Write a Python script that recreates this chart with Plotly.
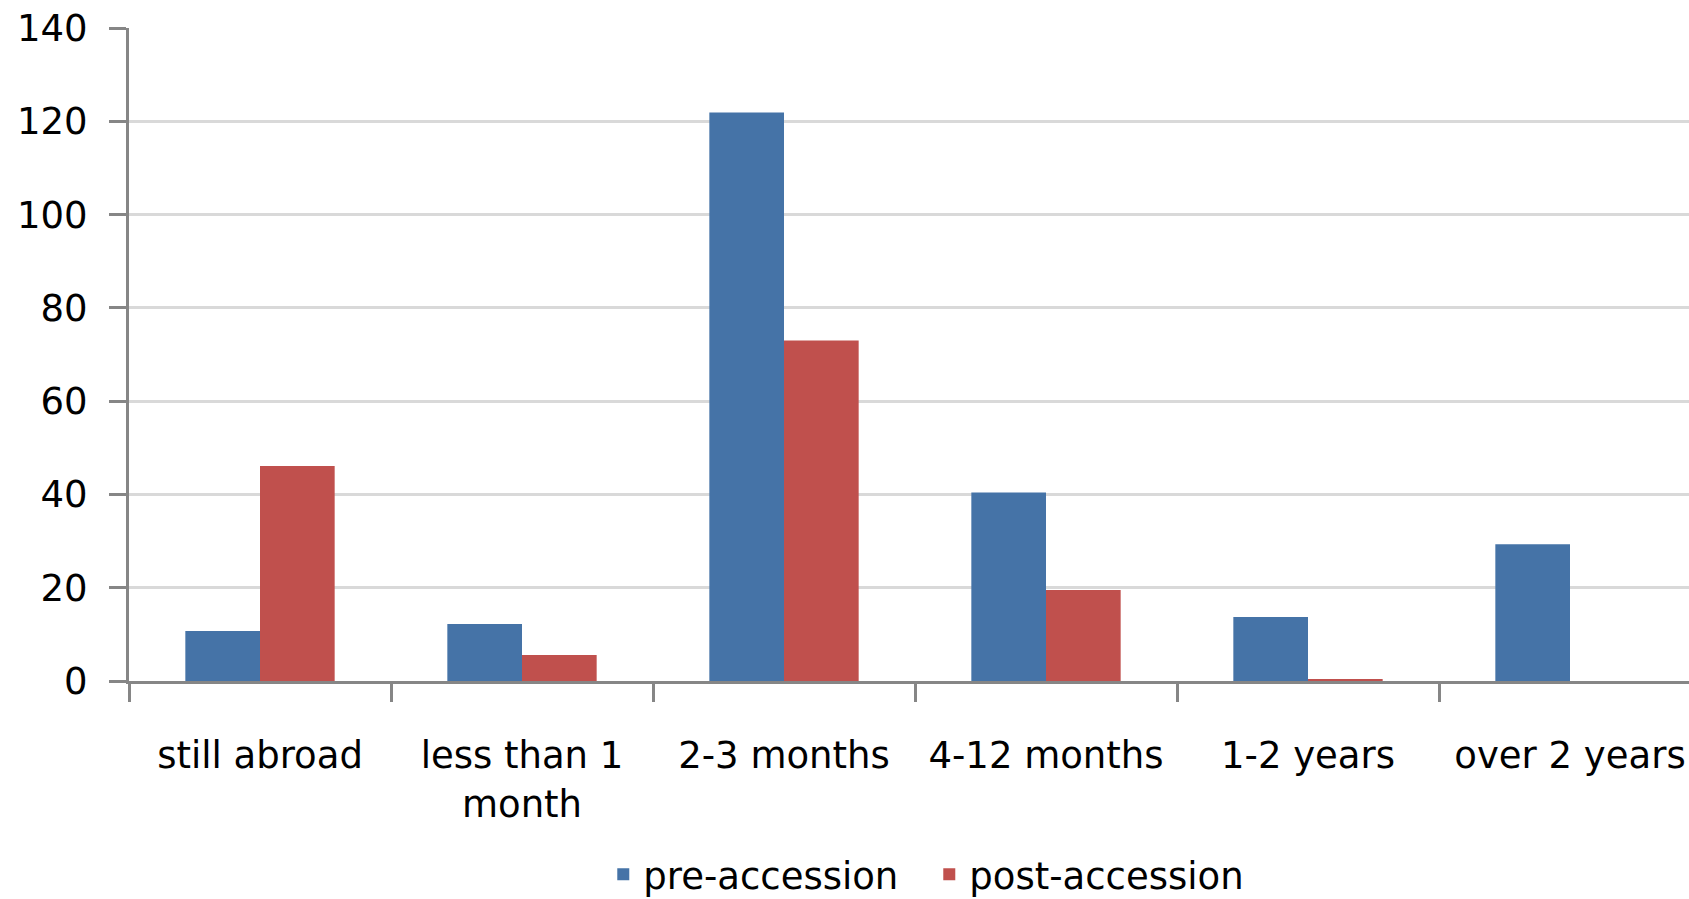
import plotly.graph_objects as go

# Time spent abroad, grouped by accession period
categories = ["still abroad", "less than 1<br>month", "2-3 months",
              "4-12 months", "1-2 years", "over 2 years"]
pre_accession = [10.7, 12.2, 121.9, 40.4, 13.7, 29.3]
post_accession = [46.1, 5.6, 73.0, 19.5, 0.4, 0]
y_ticks = [0, 20, 40, 60, 80, 100, 120, 140]

BLUE = "#4573A7"
RED = "#C0504D"
AXIS = "#868686"
GRID = "#D9D9D9"
FONT = dict(family="DejaVu Sans, Verdana, sans-serif", size=37, color="#000000")

LEFT = 129
CAT_WIDTH = 262  # pixel width of one category slot

fig = go.Figure()
fig.add_trace(go.Bar(x=categories, y=pre_accession, name="pre-accession",
                     marker=dict(color=BLUE, line=dict(width=0))))
fig.add_trace(go.Bar(x=categories, y=post_accession, name="post-accession",
                     marker=dict(color=RED, line=dict(width=0))))

fig.update_layout(
    width=1689, height=899,
    margin=dict(l=LEFT, r=0, t=28, b=218, pad=0, autoexpand=False),
    paper_bgcolor="white", plot_bgcolor="white",
    font=FONT,
    barmode="group", bargap=0.43, bargroupgap=0,
    showlegend=True,
    legend=dict(orientation="h", x=0.513, xanchor="center",
                yref="container", y=0.027, yanchor="middle",
                font=FONT, entrywidth=281, entrywidthmode="pixels",
                traceorder="normal", bgcolor="rgba(0,0,0,0)"),
)

fig.update_xaxes(
    type="category",
    range=[-0.5, -0.5 + (1689 - LEFT) / CAT_WIDTH],
    tickson="boundaries",
    showline=True, linecolor=AXIS, linewidth=3,
    showgrid=False, zeroline=False,
    ticks="outside", ticklen=18, tickwidth=3, tickcolor=AXIS,
    ticklabelstandoff=40,
    tickfont=FONT, automargin=False,
)

fig.update_yaxes(
    range=[0, 140],
    tickmode="array", tickvals=y_ticks,
    showline=True, linecolor=AXIS, linewidth=3,
    showgrid=True, gridcolor=GRID, gridwidth=3,
    zeroline=False,
    ticks="outside", ticklen=17, tickwidth=3, tickcolor=AXIS,
    ticklabelstandoff=14,
    tickfont=FONT, automargin=False,
)

fig.write_html("out.html")
